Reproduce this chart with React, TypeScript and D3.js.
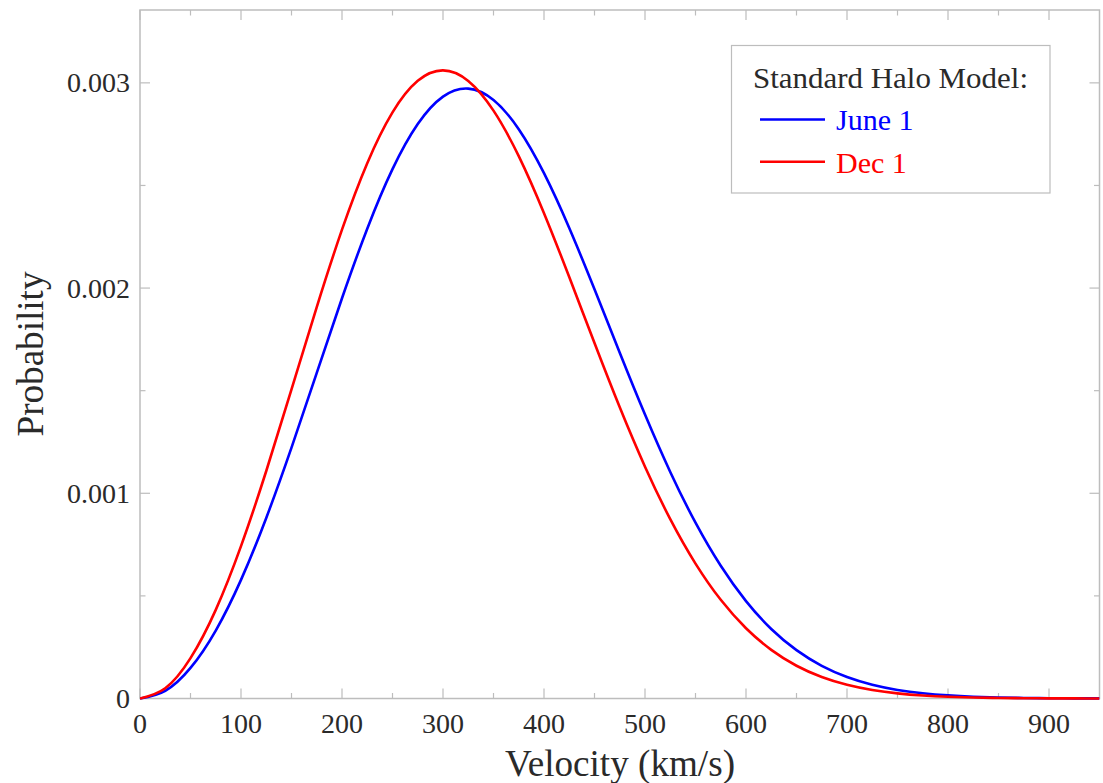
import React from "react";
import * as d3 from "d3";

const velocities = [0, 25, 50, 75, 100, 125, 150, 175, 200, 225, 250, 275, 300, 325, 350, 375, 400, 425, 450, 475, 500, 525, 550, 575, 600, 625, 650, 675, 700, 725, 750, 775, 800, 825, 850, 875, 900, 925, 950];

// probability values (x 1e-3)
const june1 = [0, 0.0375, 0.1489, 0.3312, 0.5781, 0.8798, 1.2223, 1.5866, 1.9504, 2.2894, 2.5794, 2.7991, 2.9327, 2.9718, 2.9163, 2.774, 2.5597, 2.2926, 1.9939, 1.6848, 1.3834, 1.104, 0.8567, 0.6466, 0.4746, 0.3389, 0.2355, 0.1592, 0.1047, 0.0671, 0.0418, 0.0254, 0.015, 0.0086, 0.0048, 0.0026, 0.0014, 0.0007, 0.0004];
const dec1 = [0, 0.0498, 0.1966, 0.432, 0.7425, 1.1085, 1.5059, 1.9076, 2.2845, 2.6085, 2.8561, 3.0099, 3.0608, 3.0095, 2.8647, 2.6428, 2.3647, 2.0536, 1.7319, 1.4187, 1.1294, 0.8739, 0.6575, 0.4809, 0.3424, 0.237, 0.1596, 0.1046, 0.0667, 0.0414, 0.025, 0.0147, 0.0084, 0.0047, 0.0026, 0.0014, 0.0007, 0.0004, 0.0002];

const xTicks = [0, 100, 200, 300, 400, 500, 600, 700, 800, 900];
const xMinorTicks = [50, 150, 250, 350, 450, 550, 650, 750, 850];
const yTicks = [0, 0.001, 0.002, 0.003];
const yTickLabels = ["0", "0.001", "0.002", "0.003"];
const yMinorTicks = [0.0005, 0.0015, 0.0025];

const seriesNames = ["June 1", "Dec 1"];
const seriesColors = ["#0000ff", "#ff0000"];

const W = 1103;
const H = 783;
const left = 140;
const right = 1099.5;
const top = 10;
const bottom = 698.5;
const FONT = "'Liberation Serif', 'Times New Roman', serif";

export default function App() {
  const x = d3.scaleLinear().domain([0, 950]).range([left, right]);
  const y = d3.scaleLinear().domain([0, 0.003355]).range([bottom, top]);

  const line = d3
    .line<number>()
    .x((_, i) => x(velocities[i]))
    .y((d) => y(d / 1000))
    .curve(d3.curveNatural);

  const series = [june1, dec1];
  const frame = "#bdbdbd";
  const textColor = "#2a2a2a";

  return (
    <svg
      width={W}
      height={H}
      style={{ position: "absolute", left: 0, top: 0, background: "#fff" }}
      fontFamily={FONT}
    >
      <rect x={0} y={0} width={W} height={H} fill="#fff" />
      {/* frame */}
      <rect x={left} y={top} width={right - left} height={bottom - top} fill="none" stroke={frame} strokeWidth={1.5} />

      {/* x ticks */}
      {xTicks.map((t) => (
        <g key={"xt" + t}>
          <line x1={x(t)} x2={x(t)} y1={bottom} y2={bottom - 10} stroke={frame} strokeWidth={1.2} />
          <line x1={x(t)} x2={x(t)} y1={top} y2={top + 10} stroke={frame} strokeWidth={1.2} />
          <text x={x(t)} y={733} textAnchor="middle" fontSize={28} fill={textColor}>
            {t}
          </text>
        </g>
      ))}
      {xMinorTicks.map((t) => (
        <g key={"xm" + t}>
          <line x1={x(t)} x2={x(t)} y1={bottom} y2={bottom - 5.5} stroke={frame} strokeWidth={1.2} />
          <line x1={x(t)} x2={x(t)} y1={top} y2={top + 5.5} stroke={frame} strokeWidth={1.2} />
        </g>
      ))}

      {/* y ticks */}
      {yTicks.map((t, i) => (
        <g key={"yt" + t}>
          <line x1={left} x2={left + 10} y1={y(t)} y2={y(t)} stroke={frame} strokeWidth={1.2} />
          <line x1={right} x2={right - 10} y1={y(t)} y2={y(t)} stroke={frame} strokeWidth={1.2} />
          <text x={130} y={y(t) + 9.5} textAnchor="end" fontSize={28} fill={textColor}>
            {yTickLabels[i]}
          </text>
        </g>
      ))}
      {yMinorTicks.map((t) => (
        <g key={"ym" + t}>
          <line x1={left} x2={left + 5.5} y1={y(t)} y2={y(t)} stroke={frame} strokeWidth={1.2} />
          <line x1={right} x2={right - 5.5} y1={y(t)} y2={y(t)} stroke={frame} strokeWidth={1.2} />
        </g>
      ))}

      {/* axis titles */}
      <text x={620} y={776} textAnchor="middle" fontSize={37} fill={textColor} textLength={230} lengthAdjust="spacingAndGlyphs">
        Velocity (km/s)
      </text>
      <text
        transform={`translate(43,354) rotate(-90)`}
        textAnchor="middle"
        fontSize={37}
        fill={textColor}
        textLength={165}
        lengthAdjust="spacingAndGlyphs"
      >
        Probability
      </text>

      {/* curves */}
      <defs>
        <clipPath id="plotclip">
          <rect x={left} y={top} width={right - left} height={bottom - top + 2} />
        </clipPath>
      </defs>
      <g clipPath="url(#plotclip)">
        {series.map((s, i) => (
          <path key={seriesNames[i]} d={line(s) || ""} fill="none" stroke={seriesColors[i]} strokeWidth={2.6} />
        ))}
      </g>

      {/* legend */}
      <rect x={731.5} y={45.5} width={318.5} height={147.5} fill="#fff" stroke={frame} strokeWidth={1.2} />
      <text x={753} y={88} fontSize={30} fill={textColor} textLength={275} lengthAdjust="spacingAndGlyphs">
        Standard Halo Model:
      </text>
      {seriesNames.map((n, i) => (
        <g key={"lg" + n}>
          <line x1={760} x2={825} y1={119.5 + i * 42.2} y2={119.5 + i * 42.2} stroke={seriesColors[i]} strokeWidth={2.6} />
          <text x={836} y={130 + i * 42.5} fontSize={30} fill={seriesColors[i]}>
            {n}
          </text>
        </g>
      ))}
    </svg>
  );
}
